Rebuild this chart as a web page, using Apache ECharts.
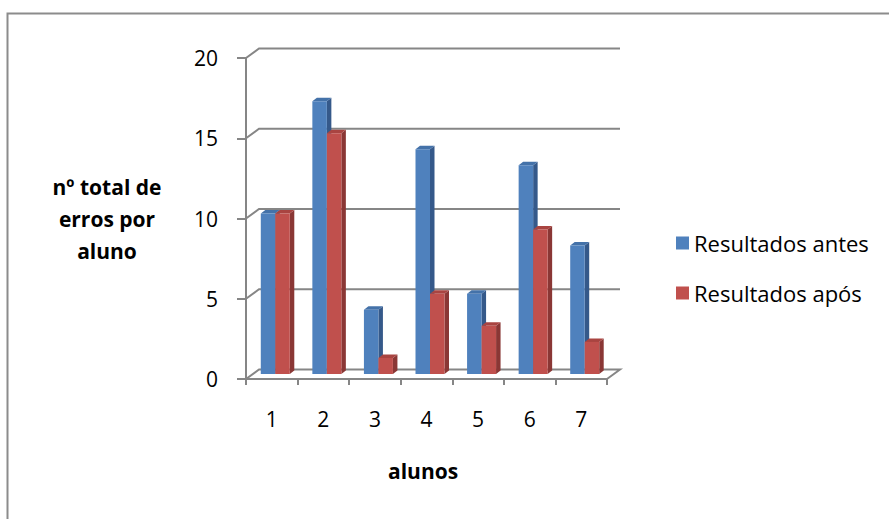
<!DOCTYPE html>
<html>
<head>
<meta charset="utf-8">
<script src="https://cdn.jsdelivr.net/npm/echarts@6/dist/echarts.min.js"></script>
<style>
  html, body { margin: 0; padding: 0; background: #ffffff; }
  #chart { width: 889px; height: 519px; }
</style>
</head>
<body>
<div id="chart"></div>
<script>
// Number of errors per student, before and after
const alunos = ['1', '2', '3', '4', '5', '6', '7'];
const resultadosAntes = [10, 17, 4, 14, 5, 13, 8];
const resultadosApos = [10, 15, 1, 5, 3, 9, 2];
const yTicks = [0, 5, 10, 15, 20];

const FONT = '"Open Sans", Lato, sans-serif';
const GRID_COLOR = '#868686';

// depth offsets of the pseudo-3D box
const WALL_DX = 13, WALL_DY = -9.5;     // back wall relative to front plane
const BAR_DX = 3.5, BAR_DY = -5;        // plane where the bars stand
const BAR_W = 14.5;                      // front face width of one bar
const SIDE_DX = 4.5, SIDE_DY = -3.5;     // bar depth

const palettes = [
  { front: '#4F81BD', side: '#35598A', top: '#4472A9' },
  { front: '#C0504D', side: '#8A3735', top: '#A94441' }
];

function barRenderer(seriesIdx) {
  const pal = palettes[seriesIdx];
  return function (params, api) {
    const i = api.value(0);
    const v = api.value(1);
    const base = api.coord([i, 0]);
    const tip = api.coord([i, v]);
    const cx = base[0] + BAR_DX;
    const x0 = seriesIdx === 0 ? cx - BAR_W : cx;
    const x1 = x0 + BAR_W;
    const yb = base[1] + BAR_DY;
    const yt = tip[1] + BAR_DY;
    return {
      type: 'group',
      children: [
        { type: 'polygon', shape: { points: [[x1, yt], [x1 + SIDE_DX, yt + SIDE_DY], [x1 + SIDE_DX, yb + SIDE_DY], [x1, yb]] },
          style: { fill: pal.side } },
        { type: 'polygon', shape: { points: [[x0, yt], [x1, yt], [x1 + SIDE_DX, yt + SIDE_DY], [x0 + SIDE_DX, yt + SIDE_DY]] },
          style: { fill: pal.top } },
        { type: 'rect', shape: { x: x0, y: yt, width: BAR_W, height: yb - yt },
          style: { fill: pal.front } }
      ]
    };
  };
}

// back-wall gridlines, joined to the front axis by a short diagonal
function wallRenderer(params, api) {
  const v = api.value(0);
  const left = api.coord([0, v]);
  const right = api.coord([alunos.length - 1, v]);
  const halfBand = api.size([1, 0])[0] / 2;
  const xL = left[0] - halfBand;
  const xR = right[0] + halfBand;
  const y = left[1];
  const pts = v === 0
    ? [[xL, y], [xL + WALL_DX, y + WALL_DY], [xR + WALL_DX, y + WALL_DY], [xR, y]]
    : [[xL, y], [xL + WALL_DX, y + WALL_DY], [xR + WALL_DX, y + WALL_DY]];
  return {
    type: 'polyline',
    shape: { points: pts },
    style: { stroke: GRID_COLOR, lineWidth: 2, fill: 'none' },
    z2: 0
  };
}

const chart = echarts.init(document.getElementById('chart'), null, { renderer: 'svg' });

chart.setOption({
  animation: false,
  backgroundColor: '#ffffff',
  textStyle: { fontFamily: FONT },
  grid: { left: 246, right: 282, top: 58, bottom: 140, containLabel: false },
  xAxis: {
    type: 'category',
    data: alunos,
    boundaryGap: true,
    axisLine: { show: true, lineStyle: { color: GRID_COLOR, width: 2 } },
    axisTick: { show: true, length: 6, lineStyle: { color: GRID_COLOR, width: 2 } },
    axisLabel: { color: '#000000', fontSize: 21, fontFamily: FONT, margin: 29 },
    splitLine: { show: false }
  },
  yAxis: {
    type: 'value',
    min: 0,
    max: 20,
    interval: 5,
    axisLine: { show: true, lineStyle: { color: GRID_COLOR, width: 2 } },
    axisTick: { show: true, length: 9, lineStyle: { color: GRID_COLOR, width: 2 } },
    axisLabel: { color: '#000000', fontSize: 21, fontFamily: FONT, margin: 28 },
    splitLine: { show: false }
  },
  legend: {
    orient: 'vertical',
    left: 671,
    top: 227,
    itemWidth: 13,
    itemHeight: 13,
    itemGap: 28,
    icon: 'rect',
    textStyle: { color: '#000000', fontSize: 22, fontFamily: FONT },
    data: ['Resultados antes', 'Resultados após']
  },
  series: [
    {
      type: 'custom',
      name: 'wall',
      silent: true,
      renderItem: wallRenderer,
      data: yTicks.map(t => [t]),
      encode: { y: 0 },
      z: 1
    },
    {
      type: 'custom',
      name: 'Resultados antes',
      itemStyle: { color: palettes[0].front },
      renderItem: barRenderer(0),
      data: resultadosAntes.map((v, i) => [i, v]),
      encode: { x: 0, y: 1 },
      z: 2
    },
    {
      type: 'custom',
      name: 'Resultados após',
      itemStyle: { color: palettes[1].front },
      renderItem: barRenderer(1),
      data: resultadosApos.map((v, i) => [i, v]),
      encode: { x: 0, y: 1 },
      z: 3
    }
  ],
  graphic: [
    {
      type: 'rect',
      left: 5, top: 11,
      shape: { x: 0, y: 0, width: 1000, height: 1000 },
      style: { fill: 'none', stroke: '#8C8C8C', lineWidth: 2 },
      silent: true
    },
    {
      type: 'text',
      left: 45, top: 171,
      style: {
        text: 'nº total de\nerros por\naluno',
        fill: '#000000',
        font: 'bold 21px ' + FONT,
        lineHeight: 32,
        textAlign: 'center',
        width: 124
      }
    },
    {
      type: 'text',
      left: 388, top: 460,
      style: {
        text: 'alunos',
        fill: '#000000',
        font: 'bold 21px ' + FONT
      }
    }
  ]
});
</script>
</body>
</html>
